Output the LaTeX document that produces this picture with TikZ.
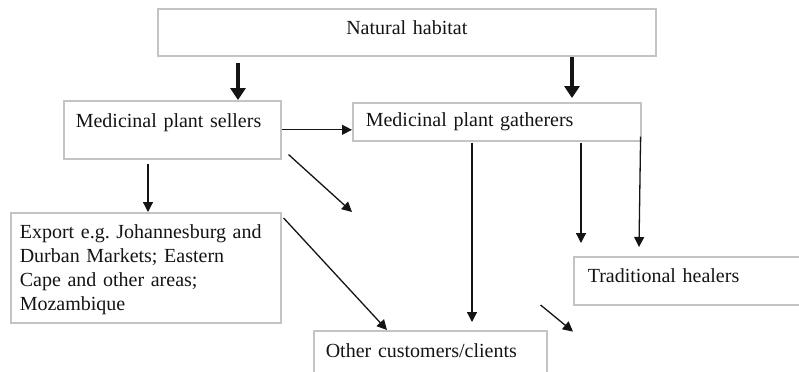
\documentclass[tikz,border=0pt]{standalone}
\usepackage{fontspec}
\setmainfont{Liberation Serif}
\usepackage{tikz}
\usetikzlibrary{
  arrows.meta,
  positioning,
  calc
}
\frenchspacing
\definecolor{mpEdge}{HTML}{C4C4C4}
\definecolor{mpInk}{HTML}{141414}
\tikzset{
  mpbox/.style={
    draw=mpEdge, line width=0.8pt, anchor=north west, align=left,
    inner ysep=0pt, text=mpInk, font=\fontsize{10}{12}\selectfont
  },
  flow/.style={-{Triangle[length=5pt, width=5pt]}, line width=0.65pt, mpInk},
  mainflow/.style={-{Triangle[length=6pt, width=7.5pt]}, line width=2pt, mpInk}
}

\begin{document}
\begin{tikzpicture}[x=0.5pt, y=-0.5pt]
  \useasboundingbox (0,0) rectangle (799,371);
  % boxes
  \node[mpbox, align=center, inner xsep=0pt, text width=249pt, text height=13pt, text depth=10.5pt] (nat) at (157,8) {Natural habitat};
  \node[mpbox, inner xsep=6pt, text width=96.5pt, text height=13.5pt, text depth=15.5pt] (sellers) at (63,100) {Medicinal plant sellers};
  \node[mpbox, inner xsep=6.5pt, text width=131pt, text height=12pt, text depth=7pt] (gath) at (352,102) {Medicinal plant gatherers};
  \node[mpbox, inner xsep=4.5pt, text width=126pt, text height=13pt, text depth=42pt] (export) at (10,212)
    {Export e.g. Johannesburg and\\Durban Markets; Eastern\\Cape and other areas;\\Mozambique};
  \node[mpbox, inner xsep=7pt, text width=106pt, text height=13pt, text depth=11pt] (healers) at (573,256) {Traditional healers};
  \node[mpbox, inner xsep=6pt, text width=104.5pt, text height=13.5pt, text depth=15pt] (other) at (313,330) {Other customers/clients};
  \coordinate (loose) at (352,212);

  % arrows
  \draw[mainflow] ([shift={(81,6)}]nat.south west) -- ([shift={(175,0)}]sellers.north west);
  \draw[mainflow] ([shift={(415,0)}]nat.south west) -- ([shift={(220,-4)}]gath.north west);
  \draw[flow] (sellers.east) -- (gath.west |- sellers.east);
  \draw[flow] ([shift={(7,-5)}]sellers.south east) -- (loose);
  \draw[flow] ([shift={(85,4)}]sellers.south west) -- ([shift={(138,0)}]export.north west);
  \draw[flow] ([shift={(2,6)}]export.north east) -- ([shift={(74,0)}]other.north west);
  \draw[flow] ([shift={(120,1)}]gath.south west) -- ([shift={(159,-8)}]other.north west);
  \draw[flow] ([shift={(229,1)}]gath.south west) -- ([shift={(8,-13)}]healers.north west);
  \draw[flow] ([shift={(-1,-5)}]gath.south east) -- ([shift={(66,-9)}]healers.north west);
  \draw[flow] ([shift={(-7,-25)}]other.north east) -- ([shift={(0,26)}]healers.south west);
\end{tikzpicture}
\end{document}
